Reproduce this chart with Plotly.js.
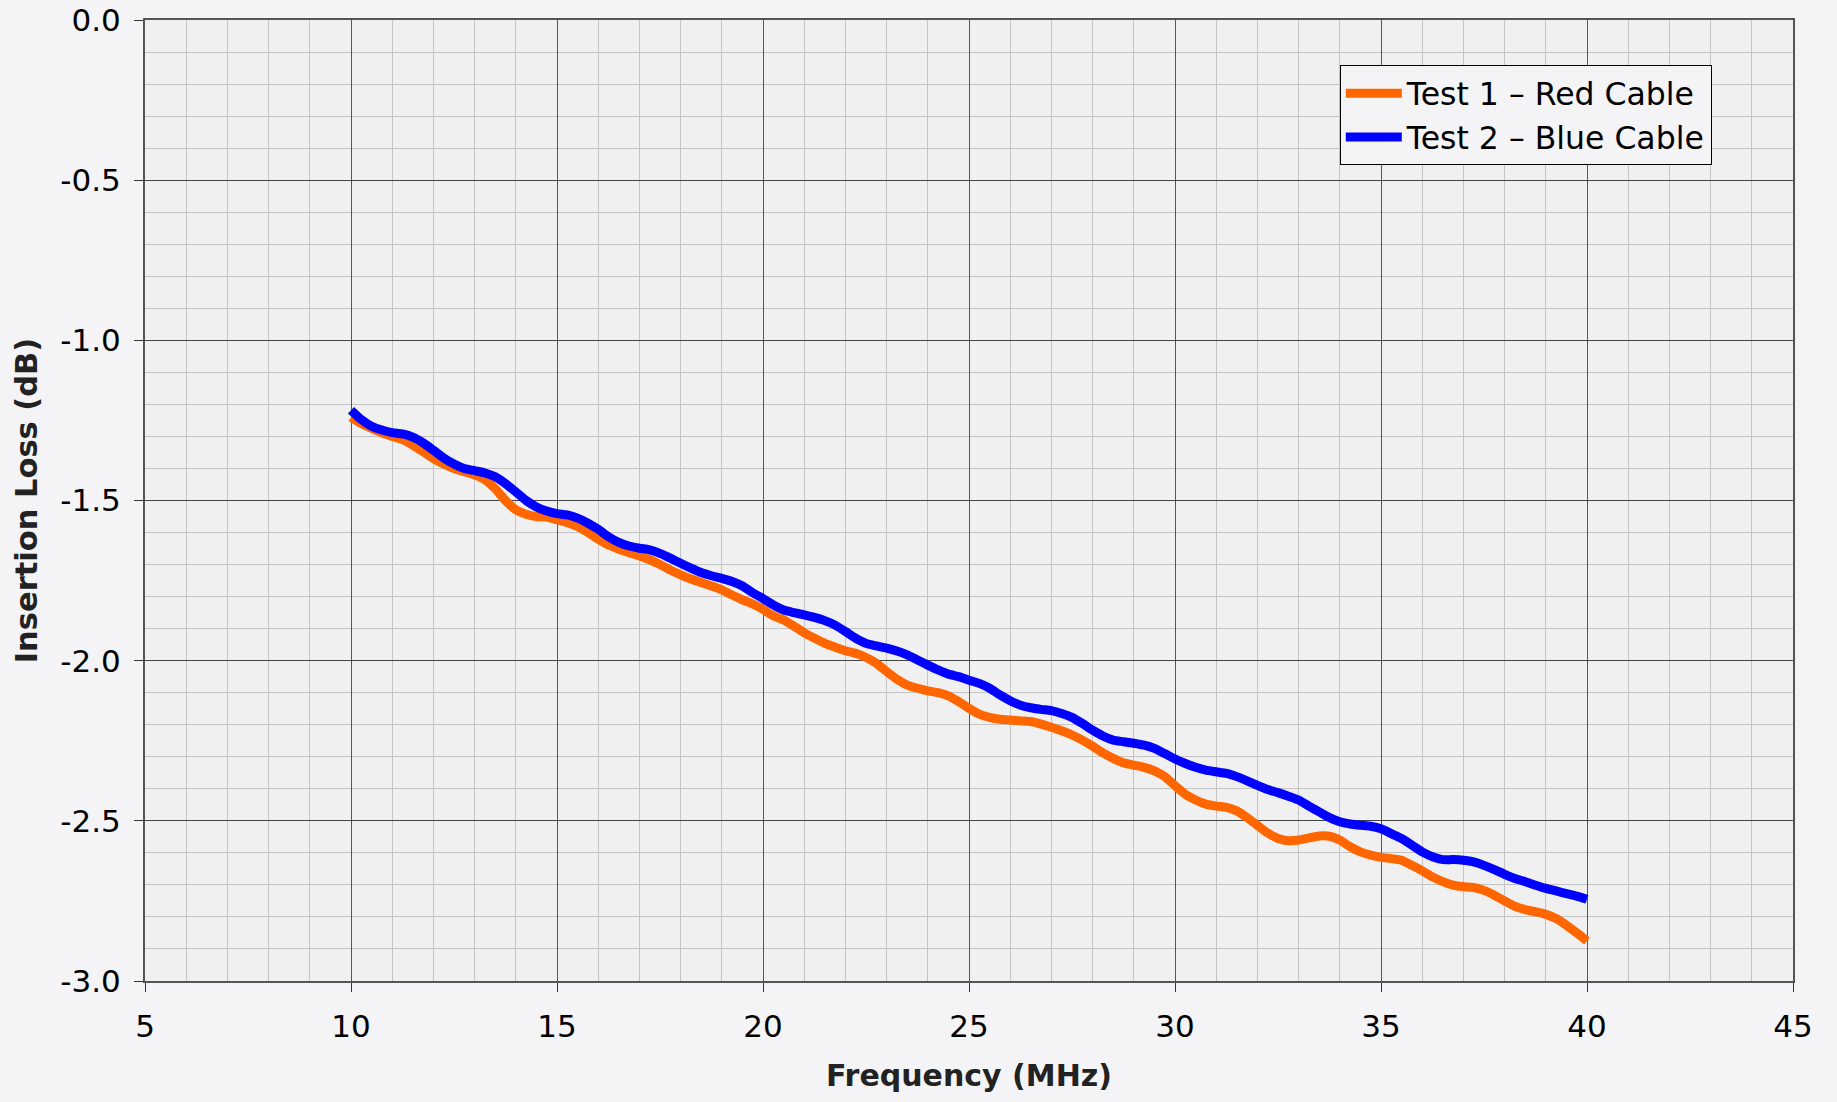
<!DOCTYPE html>
<html>
<head>
<meta charset="utf-8">
<script src="https://cdn.plot.ly/plotly-3.0.1.min.js"></script>
<style>
html,body{margin:0;padding:0;background:#f4f4f6;}
#chart{width:1837px;height:1102px;}
</style>
</head>
<body>
<div id="chart"></div>
<script>
const frequency = [10,10.25,10.5,10.75,11,11.25,11.5,11.75,12,12.25,12.5,12.75,13,13.25,13.5,13.75,14,14.25,14.5,14.75,
15,15.25,15.5,15.75,16,16.25,16.5,16.75,17,17.25,17.5,17.75,18,18.25,18.5,18.75,19,19.25,19.5,19.75,
20,20.25,20.5,20.75,21,21.25,21.5,21.75,22,22.25,22.5,22.75,23,23.25,23.5,23.75,24,24.25,24.5,24.75,
25,25.25,25.5,25.75,26,26.25,26.5,26.75,27,27.25,27.5,27.75,28,28.25,28.5,28.75,29,29.25,29.5,29.75,
30,30.25,30.5,30.75,31,31.25,31.5,31.75,32,32.25,32.5,32.75,33,33.25,33.5,33.75,34,34.25,34.5,34.75,
35,35.25,35.5,35.75,36,36.25,36.5,36.75,37,37.25,37.5,37.75,38,38.25,38.5,38.75,39,39.25,39.5,39.75,40];

const test1RedCable = [-1.240,-1.260,-1.275,-1.289,-1.300,-1.310,-1.327,-1.348,-1.369,-1.386,-1.400,-1.410,-1.420,-1.435,-1.463,-1.500,-1.529,-1.543,-1.550,-1.552,
-1.560,-1.569,-1.581,-1.600,-1.621,-1.639,-1.652,-1.663,-1.673,-1.685,-1.700,-1.717,-1.732,-1.745,-1.756,-1.767,-1.779,-1.795,-1.810,-1.823,
-1.840,-1.860,-1.873,-1.892,-1.913,-1.930,-1.946,-1.958,-1.969,-1.977,-1.990,-2.008,-2.034,-2.058,-2.076,-2.086,-2.094,-2.100,-2.110,-2.128,
-2.149,-2.167,-2.177,-2.183,-2.185,-2.188,-2.190,-2.198,-2.208,-2.219,-2.232,-2.248,-2.267,-2.288,-2.305,-2.319,-2.326,-2.333,-2.344,-2.362,
-2.390,-2.417,-2.435,-2.448,-2.454,-2.458,-2.469,-2.490,-2.514,-2.538,-2.555,-2.562,-2.560,-2.553,-2.547,-2.548,-2.560,-2.581,-2.597,-2.607,
-2.614,-2.618,-2.623,-2.639,-2.656,-2.675,-2.690,-2.701,-2.706,-2.708,-2.717,-2.732,-2.750,-2.767,-2.777,-2.784,-2.792,-2.805,-2.826,-2.850,-2.875];

const test2BlueCable = [-1.218,-1.247,-1.268,-1.280,-1.288,-1.292,-1.302,-1.320,-1.343,-1.367,-1.386,-1.400,-1.407,-1.414,-1.426,-1.447,-1.473,-1.500,-1.520,-1.533,
-1.541,-1.545,-1.555,-1.571,-1.590,-1.613,-1.631,-1.642,-1.649,-1.654,-1.665,-1.680,-1.696,-1.711,-1.725,-1.735,-1.743,-1.753,-1.767,-1.788,
-1.806,-1.826,-1.842,-1.850,-1.857,-1.865,-1.875,-1.889,-1.909,-1.930,-1.946,-1.954,-1.961,-1.970,-1.982,-1.998,-2.014,-2.029,-2.042,-2.050,
-2.061,-2.071,-2.086,-2.107,-2.125,-2.139,-2.147,-2.152,-2.156,-2.165,-2.177,-2.196,-2.217,-2.235,-2.248,-2.253,-2.258,-2.264,-2.274,-2.290,
-2.307,-2.321,-2.333,-2.342,-2.347,-2.352,-2.362,-2.375,-2.389,-2.402,-2.412,-2.423,-2.435,-2.454,-2.472,-2.490,-2.503,-2.510,-2.514,-2.517,
-2.525,-2.540,-2.555,-2.576,-2.597,-2.612,-2.621,-2.621,-2.623,-2.628,-2.639,-2.652,-2.667,-2.680,-2.690,-2.701,-2.711,-2.719,-2.727,-2.735,-2.745];

const seriesNames = ["Test 1 \u2013 Red Cable", "Test 2 \u2013 Blue Cable"];
const yTickVals = [0, -0.5, -1.0, -1.5, -2.0, -2.5, -3.0];
const yTickText = ["0.0", "-0.5", "-1.0", "-1.5", "-2.0", "-2.5", "-3.0"];
const xTickVals = [5, 10, 15, 20, 25, 30, 35, 40, 45];
const xTickText = ["5", "10", "15", "20", "25", "30", "35", "40", "45"];

const FONT = "DejaVu Sans, Verdana, sans-serif";

const traces = [
  {x: frequency, y: test1RedCable, name: seriesNames[0], type: "scatter", mode: "lines",
   line: {color: "#ff6600", width: 9, shape: "spline", smoothing: 0.6}},
  {x: frequency, y: test2BlueCable, name: seriesNames[1], type: "scatter", mode: "lines",
   line: {color: "#0000ff", width: 9, shape: "spline", smoothing: 0.6}}
];

const layout = {
  width: 1837, height: 1102,
  paper_bgcolor: "#f4f4f6",
  plot_bgcolor: "#f0f0f0",
  margin: {l: 145, r: 44, t: 20, b: 121},
  font: {family: FONT, color: "#000", size: 31},
  showlegend: true,
  legend: {
    x: 0.725, y: 0.953, xanchor: "left", yanchor: "top",
    bgcolor: "#f4f4f6", bordercolor: "#000", borderwidth: 1,
    font: {family: FONT, size: 31.5, color: "#000"},
    itemwidth: 56,
    tracegroupgap: 0
  },
  xaxis: {
    range: [5, 45], tickmode: "array", tickvals: xTickVals, ticktext: xTickText,
    showgrid: true, gridcolor: "#555555", gridwidth: 1,
    minor: {dtick: 1, showgrid: true, gridcolor: "#c4c4c4", gridwidth: 1, ticks: ""},
    showline: true, linecolor: "#555555", linewidth: 2, mirror: true,
    ticks: "outside", ticklen: 9, tickcolor: "#333", tickwidth: 1,
    ticklabelstandoff: 8,
    tickfont: {family: FONT, size: 31, color: "#000"},
    zeroline: false,
    title: {text: "<b>Frequency (MHz)</b>", font: {family: FONT, size: 30, color: "#222"}, standoff: 22}
  },
  yaxis: {
    range: [-3, 0], tickmode: "array", tickvals: yTickVals, ticktext: yTickText,
    showgrid: true, gridcolor: "#444444", gridwidth: 1,
    minor: {dtick: 0.1, showgrid: true, gridcolor: "#c4c4c4", gridwidth: 1, ticks: ""},
    showline: true, linecolor: "#555555", linewidth: 2, mirror: true,
    ticks: "outside", ticklen: 9, tickcolor: "#333", tickwidth: 1,
    ticklabelstandoff: 7,
    tickfont: {family: FONT, size: 31, color: "#000"},
    zeroline: false,
    title: {text: "<b>Insertion Loss (dB)</b>", font: {family: FONT, size: 30.5, color: "#222"}, standoff: 14}
  }
};

Plotly.newPlot("chart", traces, layout, {displayModeBar: false, staticPlot: true});
</script>
</body>
</html>
